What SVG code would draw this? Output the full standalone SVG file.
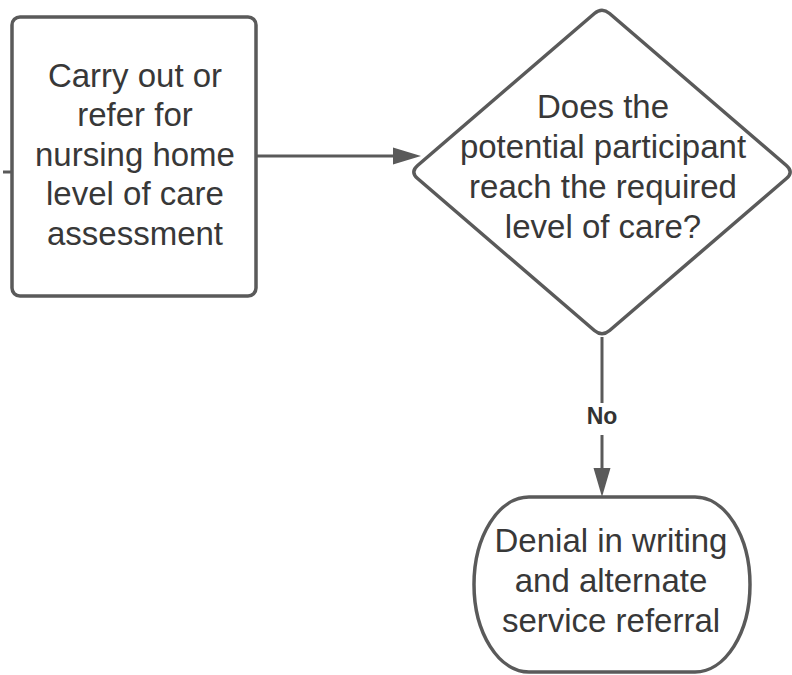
<svg xmlns="http://www.w3.org/2000/svg" width="792" height="675" viewBox="0 0 792 675">
  <style>
    .shape { fill: #ffffff; stroke: #5a5a5a; stroke-width: 3.5; }
    .edge { fill: none; stroke: #5a5a5a; stroke-width: 3; }
    .head { fill: #5a5a5a; stroke: none; }
    .label { font-family: "Liberation Sans", Arial, sans-serif; font-size: 33px; fill: #383838; text-anchor: middle; }
    .edge-label { font-family: "Liberation Sans", Arial, sans-serif; font-size: 23px; font-weight: bold; fill: #333333; text-anchor: middle; }
  </style>
  <rect width="792" height="675" fill="#ffffff"/>

  <!-- connectors -->
  <g id="connectors">
    <!-- stub entering the first step -->
    <line class="edge" x1="3" y1="172" x2="12" y2="172" stroke-width="1.5"/>
    <!-- assessment -> decision -->
    <line class="edge" x1="256" y1="156" x2="396" y2="156"/>
    <polygon class="head" points="421,156 393,147.5 393,164.5"/>
    <!-- decision -> denial (No) -->
    <line class="edge" x1="602" y1="337" x2="602" y2="403"/>
    <line class="edge" x1="602" y1="435" x2="602" y2="470"/>
    <polygon class="head" points="602,497 593.5,468 610.5,468"/>
    <text class="edge-label" x="602" y="424">No</text>
  </g>

  <!-- process step -->
  <g id="assessment">
    <rect class="shape" x="12" y="17" width="244" height="279" rx="8" ry="8"/>
    <text class="label" x="135" y="87">Carry out or</text>
    <text class="label" x="135" y="126">refer for</text>
    <text class="label" x="135" y="166">nursing home</text>
    <text class="label" x="135" y="205">level of care</text>
    <text class="label" x="135" y="245">assessment</text>
  </g>

  <!-- decision -->
  <g id="decision">
    <path class="shape" d="M606.6,13.5 L783.4,165.5 Q791,172 783.4,178.5 L606.6,330.5 Q599,337 591.4,330.5 L414.6,178.5 Q407,172 414.6,165.5 L591.4,13.5 Q599,7 606.6,13.5 Z" transform="translate(3,0)"/>
    <text class="label" x="603" y="118">Does the</text>
    <text class="label" x="603" y="158">potential participant</text>
    <text class="label" x="603" y="198">reach the required</text>
    <text class="label" x="603" y="238">level of care?</text>
  </g>

  <!-- terminator -->
  <g id="denial">
    <rect class="shape" x="474" y="497" width="276" height="175" rx="55" ry="87.5"/>
    <text class="label" x="611" y="552">Denial in writing</text>
    <text class="label" x="611" y="592">and alternate</text>
    <text class="label" x="611" y="632">service referral</text>
  </g>
</svg>
